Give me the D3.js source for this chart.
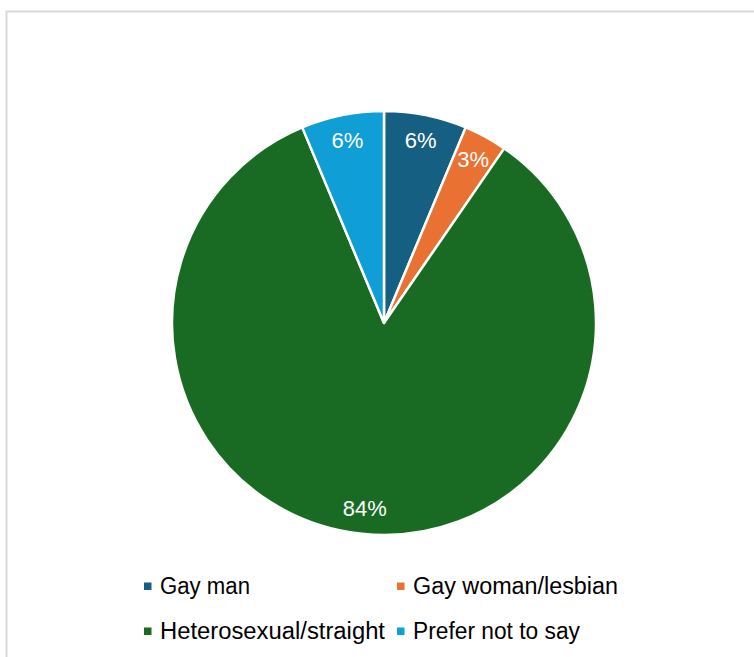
<!DOCTYPE html>
<html><head><meta charset="utf-8">
<script src="https://cdn.jsdelivr.net/npm/d3@7"></script>
<style>html,body{margin:0;padding:0;background:#fff;}svg{display:block;}</style>
</head><body>
<svg id="chart" width="754" height="657"></svg>
<script>
const categories = ["Gay man", "Gay woman/lesbian", "Heterosexual/straight", "Prefer not to say"];
const values = [6.3, 3.3, 84.1, 6.3];
const labels = ["6%", "3%", "84%", "6%"];
const colors = ["#156082", "#E97132", "#196B24", "#0F9ED5"];

const svg = d3.select("#chart");
svg.append("rect").attr("x", 6.5).attr("y", 11.5).attr("width", 900).attr("height", 800)
  .attr("fill", "#fff").attr("stroke", "#d9d9d9").attr("stroke-width", 2);

const cx = 384, cy = 323, R = 212;
const data = categories.map((c, i) => ({cat: c, v: values[i], lab: labels[i], col: colors[i]}));
const pie = d3.pie().sort(null).value(d => d.v);
const arc = d3.arc().innerRadius(0).outerRadius(R);
const labelArc = d3.arc().innerRadius(186).outerRadius(186);
const g = svg.append("g").attr("transform", `translate(${cx},${cy})`);
const arcs = pie(data);
g.selectAll("path").data(arcs).join("path")
  .attr("d", arc).attr("fill", d => d.data.col)
  .attr("stroke", "#fff").attr("stroke-width", 2.5).attr("stroke-linejoin", "round");
g.selectAll("text").data(arcs).join("text")
  .attr("transform", d => `translate(${labelArc.centroid(d)})`)
  .attr("text-anchor", "middle").attr("dominant-baseline", "central")
  .attr("fill", "#fff").attr("font-family", "Liberation Sans, Arial, sans-serif")
  .attr("font-size", 22).text(d => d.data.lab);

// legend
const legPos = [[144, 594], [397, 594], [144, 639], [397, 639]];
const legWidths = [90, 205, 225, 167];
const leg = svg.append("g");
data.forEach((d, i) => {
  const [x, y] = legPos[i];
  leg.append("rect").attr("x", x).attr("y", y - 11.5).attr("width", 7.5).attr("height", 7.5).attr("fill", d.col);
  leg.append("text").attr("x", x + 16).attr("y", y)
    .attr("font-family", "Liberation Sans, Arial, sans-serif").attr("font-size", 23)
    .attr("textLength", legWidths[i]).attr("lengthAdjust", "spacingAndGlyphs")
    .attr("fill", "#000").text(d.cat);
});
</script>
</body></html>
